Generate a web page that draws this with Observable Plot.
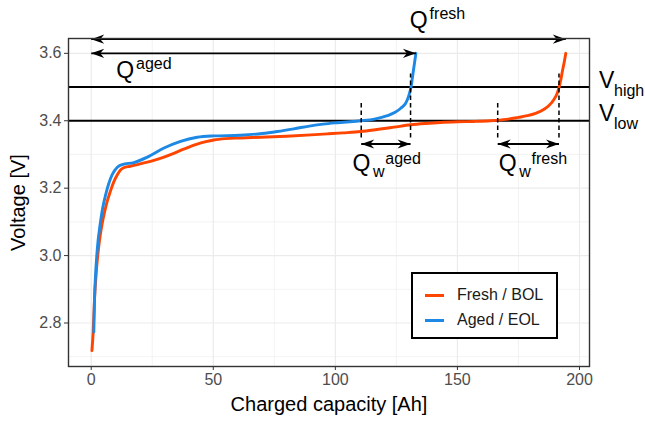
<!DOCTYPE html>
<html>
<head>
<meta charset="utf-8">
<script src="https://cdn.jsdelivr.net/npm/d3@7"></script>
<script src="https://cdn.jsdelivr.net/npm/@observablehq/plot@0.6"></script>
<style>
  html, body { margin: 0; padding: 0; background: white; }
  #wrap { position: relative; width: 645px; height: 422px; font-family: "Liberation Sans", Arial, sans-serif; }
  #wrap svg [aria-label$="tick label"] text, #wrap svg g[aria-label$="tick label"] { fill: #4D4D4D; }
  #legend { position: absolute; left: 411px; top: 272px; width: 143px; height: 63px; border: 2px solid #000; background: #fff; font-size: 16px; color: #1a1a1a; }
  .lg-row { position: absolute; left: 0; height: 20px; display: flex; align-items: center; }
  .lg-key { width: 19px; height: 3px; margin-left: 12px; margin-right: 13px; }
</style>
</head>
<body>
<div id="wrap"></div>
<script>
// ---- data ----
const seriesNames = ["Fresh / BOL", "Aged / EOL"];
const seriesColors = ["#FF4500", "#1E88E5"];

const freshCap = [0.3, 0.8, 1.35, 2.2, 3.4, 4.5, 5.5, 6.6, 7.9, 9.2, 10.7, 12, 13.1, 16, 19, 23, 26, 29.8, 33, 36.6, 40, 43.4, 47, 50.2, 55, 61, 69.4, 80, 90, 96.7, 103, 110.4, 117, 124, 130.9, 137, 143, 150, 157, 163.6, 170, 175, 178.7, 182, 185.5, 187.5, 189.6, 190.8, 191.6, 192.3, 193, 193.7, 194.4];
const freshV   = [2.718, 2.773, 2.87, 2.962, 3.045, 3.095, 3.13, 3.162, 3.192, 3.218, 3.24, 3.254, 3.26, 3.265, 3.27, 3.277, 3.283, 3.292, 3.301, 3.312, 3.322, 3.331, 3.338, 3.343, 3.347, 3.349, 3.351, 3.354, 3.358, 3.361, 3.364, 3.368, 3.374, 3.381, 3.388, 3.392, 3.395, 3.397, 3.398, 3.4, 3.404, 3.41, 3.415, 3.422, 3.434, 3.445, 3.464, 3.48, 3.498, 3.52, 3.547, 3.572, 3.6];

const agedCap = [1.07, 1.35, 1.8, 2.5, 3.8, 4.8, 5.9, 7.2, 8.6, 10.7, 12.7, 17.5, 23, 29.8, 36.6, 43.4, 50.2, 61, 70, 76.2, 83, 89.9, 95, 100.8, 106, 110.4, 116, 121.3, 124.5, 126.8, 128.8, 129.8, 130.5, 131, 131.6, 132.2, 133];
const agedV   = [2.773, 2.87, 2.945, 3.02, 3.1, 3.145, 3.18, 3.214, 3.24, 3.262, 3.27, 3.276, 3.292, 3.319, 3.339, 3.351, 3.355, 3.357, 3.362, 3.368, 3.376, 3.385, 3.39, 3.394, 3.397, 3.4, 3.405, 3.415, 3.425, 3.437, 3.452, 3.468, 3.485, 3.5, 3.53, 3.56, 3.6];

const xTicks = [0, 50, 100, 150, 200];
const xMinor = [25, 75, 125, 175];
const yTicks = [2.8, 3.0, 3.2, 3.4, 3.6];
const yMinor = [2.7, 2.9, 3.1, 3.3, 3.5];
const xDomain = [-9.3, 204.1];
const yDomain = [2.671, 3.644];

const xTitle = "Charged capacity [Ah]";
const yTitle = "Voltage [V]";

// voltage thresholds
const vLevels = [3.5, 3.4];
const vNames = ["high", "low"];
const vLabelCap = [208.0, 208.0];
const vLabelV = [3.52, 3.422];

// total capacity arrows
const qNames = ["fresh", "aged"];
const qEnd = [194.4, 133];
const qArrowV = [3.642, 3.6];
const qLabelCap = [130.5, 10.25];
const qLabelV = [3.697, 3.55];

// window (Q_w) markers
const wNames = ["aged", "fresh"];
const wStart = [110.6, 166.5];
const wEnd = [130.8, 191.6];
const wStartTop = [3.46, 3.46];
const wEndTop = [3.54, 3.54];
const wBottom = 3.35;
const wArrowV = 3.331;
const wLabelCap = [107.0, 166.9];
const wLabelV = [3.274, 3.274];

// ---- build tables ----
const curves = [];
freshCap.forEach((c, i) => curves.push({series: seriesNames[0], cap: c, v: freshV[i]}));
agedCap.forEach((c, i) => curves.push({series: seriesNames[1], cap: c, v: agedV[i]}));

const qArrows = qNames.map((n, i) => ({x1: 0, x2: qEnd[i], y: qArrowV[i]}));
const wArrows = wNames.map((n, i) => ({x1: wStart[i], x2: wEnd[i], y: wArrowV}));
const shafts = [...qArrows, ...wArrows];
const rightHeads = shafts.map(d => ({x: d.x2, y: d.y}));
const leftHeads = shafts.map(d => ({x: d.x1, y: d.y}));

const dashes = [];
wNames.forEach((n, i) => {
  dashes.push({x: wStart[i], y1: wBottom, y2: wStartTop[i]});
  dashes.push({x: wEnd[i], y1: wBottom, y2: wEndTop[i]});
});

const qLab = qNames.map((n, i) => ({x: qLabelCap[i], y: qLabelV[i], sup: n}));
const wLab = wNames.map((n, i) => ({x: wLabelCap[i], y: wLabelV[i], sup: n}));
const vLab = vNames.map((n, i) => ({x: vLabelCap[i], y: vLabelV[i], sub: n}));

// arrowhead symbols (tip at the point)
const headRight = {draw(ctx) { ctx.moveTo(0, 0); ctx.lineTo(-13, -4.6); ctx.lineTo(-9, 0); ctx.lineTo(-13, 4.6); ctx.closePath(); }};
const headLeft  = {draw(ctx) { ctx.moveTo(0, 0); ctx.lineTo(13, -4.6); ctx.lineTo(9, 0); ctx.lineTo(13, 4.6); ctx.closePath(); }};

const font = '"Liberation Sans", Arial, sans-serif';
const big = 23, small = 16;

const chart = Plot.plot({
  width: 645,
  height: 422,
  marginLeft: 68,
  marginRight: 56,
  marginTop: 38,
  marginBottom: 56,
  style: {fontFamily: font, background: "white", overflow: "visible"},
  x: {domain: xDomain},
  y: {domain: yDomain},
  color: {domain: seriesNames, range: seriesColors},
  marks: [
    Plot.gridX({ticks: xMinor, stroke: "#EBEBEB", strokeOpacity: 1, strokeWidth: 0.6}),
    Plot.gridY({ticks: yMinor, stroke: "#EBEBEB", strokeOpacity: 1, strokeWidth: 0.6}),
    Plot.gridX({ticks: xTicks, stroke: "#EBEBEB", strokeOpacity: 1, strokeWidth: 1.2}),
    Plot.gridY({ticks: yTicks, stroke: "#EBEBEB", strokeOpacity: 1, strokeWidth: 1.2}),
    Plot.axisX({ticks: xTicks, tickSize: 4, tickPadding: 3, fontSize: 16, label: null, stroke: "#333"}),
    Plot.axisY({ticks: yTicks, tickSize: 4, tickPadding: 3, fontSize: 16, label: null, stroke: "#333", tickFormat: d => d.toFixed(1)}),
    Plot.ruleY(vLevels, {stroke: "black", strokeWidth: 1.9}),
    Plot.line(curves, {x: "cap", y: "v", z: "series", stroke: "series", strokeWidth: 2.9, curve: "monotone-x"}),
    Plot.link(dashes, {x1: "x", x2: "x", y1: "y1", y2: "y2", stroke: "black", strokeWidth: 1.5, strokeDasharray: "4.5,3"}),
    Plot.link(shafts, {x1: "x1", x2: "x2", y1: "y", y2: "y", stroke: "black", strokeWidth: 1.8}),
    Plot.dot(rightHeads, {x: "x", y: "y", symbol: headRight, r: 5, fill: "black", stroke: null}),
    Plot.dot(leftHeads, {x: "x", y: "y", symbol: headLeft, r: 5, fill: "black", stroke: null}),
    // Q^aged, Q^fresh
    Plot.text(qLab, {x: "x", y: "y", text: () => "Q", fontSize: big, textAnchor: "start", fill: "black"}),
    Plot.text(qLab, {x: "x", y: "y", text: "sup", fontSize: small, textAnchor: "start", dx: 19.8, dy: -6.7, fill: "black"}),
    // Q_w^aged, Q_w^fresh
    Plot.text(wLab, {x: "x", y: "y", text: () => "Q", fontSize: big, textAnchor: "start", fill: "black"}),
    Plot.text(wLab, {x: "x", y: "y", text: () => "w", fontSize: small, textAnchor: "start", dx: 20.5, dy: 8.6, fill: "black"}),
    Plot.text(wLab, {x: "x", y: "y", text: "sup", fontSize: small, textAnchor: "start", dx: 32.8, dy: -4.1, fill: "black"}),
    // V_high, V_low
    Plot.text(vLab, {x: "x", y: "y", text: () => "V", fontSize: big, textAnchor: "start", fill: "black"}),
    Plot.text(vLab, {x: "x", y: "y", text: "sub", fontSize: small, textAnchor: "start", dx: 15, dy: 10.3, fill: "black"}),
    // axis titles
    Plot.text([xTitle], {frameAnchor: "bottom", lineAnchor: "middle", textAnchor: "middle", dy: 38.5, fontSize: 20, fill: "black"}),
    Plot.text([yTitle], {frameAnchor: "left", lineAnchor: "middle", textAnchor: "middle", rotate: -90, dx: -50, fontSize: 20, fill: "black"}),
    Plot.frame({stroke: "#333333", strokeWidth: 1.4})
  ]
});

const wrap = document.getElementById("wrap");
wrap.appendChild(chart);

// legend (lines, as in the reference)
const legend = document.createElement("div");
legend.id = "legend";
seriesNames.forEach((name, i) => {
  const row = document.createElement("div");
  row.className = "lg-row";
  row.style.top = (i === 0 ? 11 : 36) + "px";
  const key = document.createElement("div");
  key.className = "lg-key";
  key.style.background = seriesColors[i];
  const lab = document.createElement("span");
  lab.textContent = name;
  row.appendChild(key);
  row.appendChild(lab);
  legend.appendChild(row);
});
wrap.appendChild(legend);
</script>
</body>
</html>
